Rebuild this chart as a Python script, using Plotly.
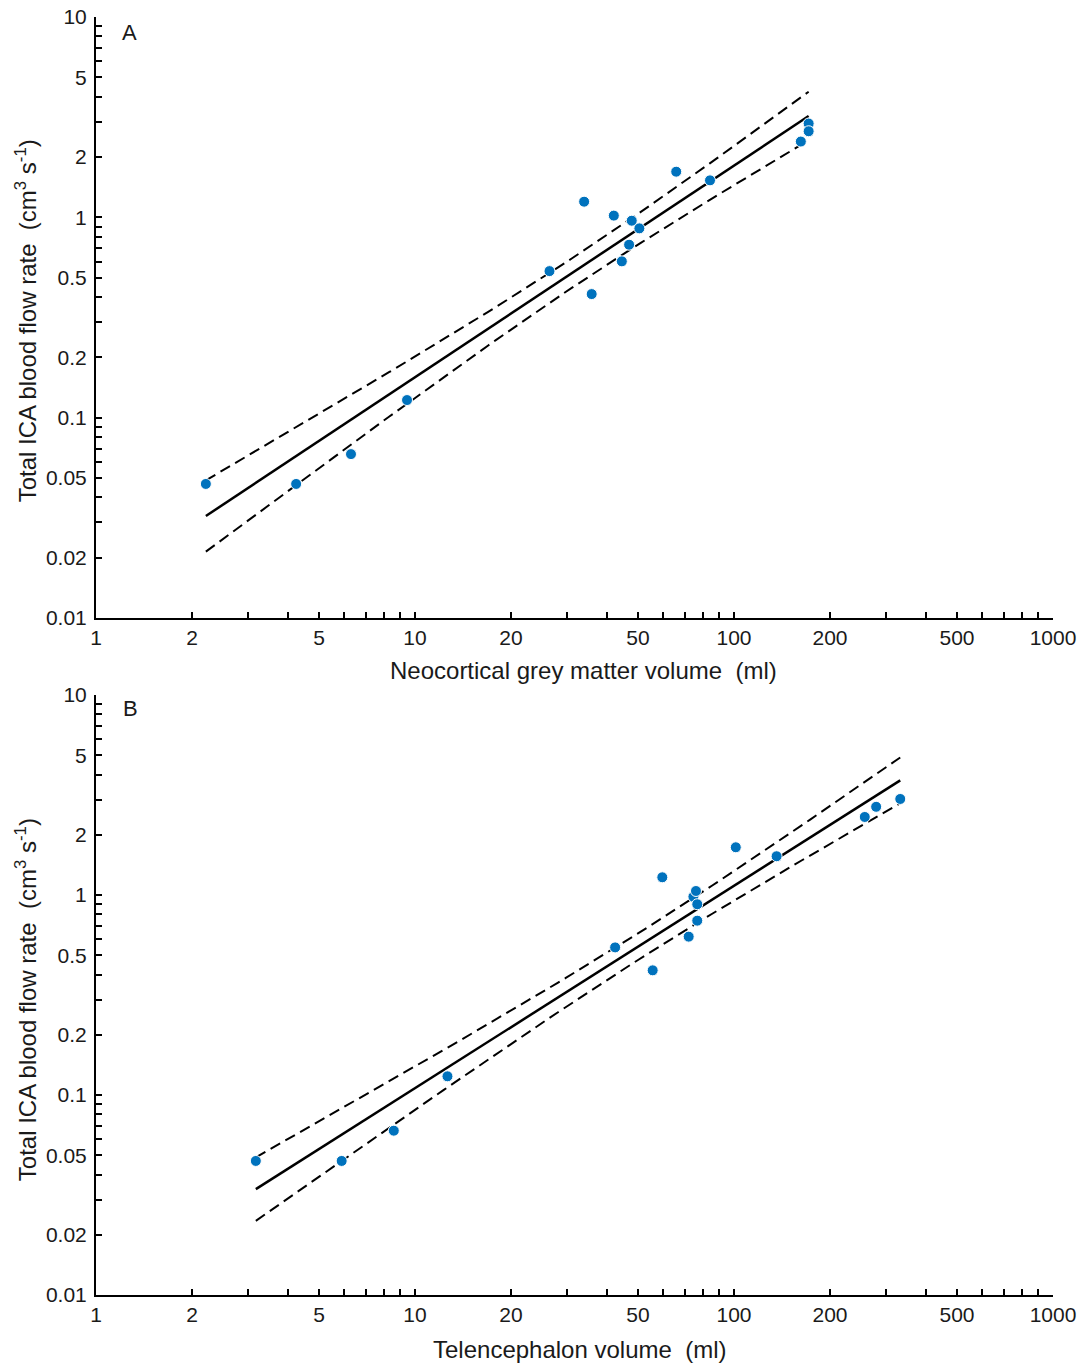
import numpy as np
import plotly.graph_objects as go
from plotly.subplots import make_subplots

# Panel A: neocortical grey matter volume (ml) vs total ICA blood flow (cm^3/s)
neo_volume = [2.21, 4.24, 6.30, 9.44, 26.4, 33.9, 35.8, 42.0, 44.5, 46.9,
              47.8, 50.5, 65.9, 84.1, 162.0, 171.4, 171.4]
flow_a = [0.0467, 0.0467, 0.0658, 0.1225, 0.539, 1.197, 0.414, 1.02, 0.603,
          0.73, 0.962, 0.881, 1.69, 1.53, 2.39, 2.94, 2.69]

# Panel B: telencephalon volume (ml) vs total ICA blood flow (cm^3/s)
tel_volume = [3.17, 5.89, 8.58, 12.64, 42.4, 55.6, 59.6, 72.1, 74.6, 76.0,
              76.7, 76.7, 101.3, 136.0, 257.0, 279.0, 332.0]
flow_b = [0.0468, 0.0468, 0.0663, 0.124, 0.547, 0.42, 1.226, 0.619, 0.98,
          1.047, 0.899, 0.744, 1.732, 1.562, 2.455, 2.76, 3.02]

x_tick_vals = [1, 2, 5, 10, 20, 50, 100, 200, 500, 1000]
x_tick_text = ["1", "2", "5", "10", "20", "50", "100", "200", "500", "1000"]
y_tick_vals = [0.01, 0.02, 0.05, 0.1, 0.2, 0.5, 1, 2, 5, 10]
y_tick_text = ["0.01", "0.02", "0.05", "0.1", "0.2", "0.5", "1", "2", "5", "10"]

T_975_DF15 = 2.131  # two-sided 95% Student t quantile, 15 degrees of freedom

BLUE = "#0072BD"
FONT = "Liberation Sans, Arial, sans-serif"
TEXT = "#1a1a1a"


def loglog_fit(x, y, n_pts=80):
    """OLS fit of log10(y) on log10(x) with a 95% confidence band for the mean."""
    lx, ly = np.log10(x), np.log10(y)
    n = len(lx)
    mx = lx.mean()
    sxx = ((lx - mx) ** 2).sum()
    slope = ((lx - mx) * (ly - ly.mean())).sum() / sxx
    icpt = ly.mean() - slope * mx
    resid = ly - (icpt + slope * lx)
    s = np.sqrt((resid ** 2).sum() / (n - 2))
    gx = np.linspace(lx.min(), lx.max(), n_pts)
    gy = icpt + slope * gx
    half = T_975_DF15 * s * np.sqrt(1.0 / n + (gx - mx) ** 2 / sxx)
    return 10 ** gx, 10 ** gy, 10 ** (gy - half), 10 ** (gy + half)


fig = make_subplots(rows=2, cols=1, vertical_spacing=0.0602)

for row, (xv, yv) in enumerate([(neo_volume, flow_a), (tel_volume, flow_b)], start=1):
    xv = np.asarray(xv, dtype=float)
    yv = np.asarray(yv, dtype=float)
    gx, gy, lo, hi = loglog_fit(xv, yv)
    for band in (lo, hi):
        fig.add_trace(go.Scatter(x=gx, y=band, mode="lines",
                                 line=dict(color="black", width=2, dash="11px,6px"),
                                 showlegend=False, hoverinfo="skip"), row=row, col=1)
    fig.add_trace(go.Scatter(x=gx, y=gy, mode="lines",
                             line=dict(color="black", width=2.5),
                             showlegend=False, hoverinfo="skip"), row=row, col=1)
    fig.add_trace(go.Scatter(x=xv, y=yv, mode="markers",
                             marker=dict(color=BLUE, size=11,
                                         line=dict(color="white", width=1)),
                             showlegend=False), row=row, col=1)

x_minor = [d * 10 ** e for e in range(0, 3) for d in range(3, 10) if d != 5]
y_minor = [d * 10.0 ** e for e in range(-2, 1) for d in range(3, 10) if d != 5]

axis_common = dict(
    type="log", showgrid=False, zeroline=False, automargin=False,
    showline=True, linecolor="black", linewidth=2,
    ticks="inside", ticklen=6, tickwidth=1.5, tickcolor="black",
    tickfont=dict(family=FONT, size=21, color=TEXT),
)

for r in (1, 2):
    fig.update_xaxes(range=[0, 3], tickvals=x_tick_vals, ticktext=x_tick_text,
                     minor=dict(tickvals=x_minor, ticks="inside", ticklen=6,
                                tickwidth=1.5, tickcolor="black"),
                     **axis_common, row=r, col=1)
    fig.update_yaxes(range=[-2, 1], tickvals=y_tick_vals, ticktext=y_tick_text,
                     ticklabelstandoff=3,
                     minor=dict(tickvals=y_minor, ticks="inside", ticklen=6,
                                tickwidth=1.5, tickcolor="black"),
                     **axis_common, row=r, col=1)

fig.update_layout(xaxis=dict(domain=[0, 1]), yaxis=dict(domain=[0.5297, 1.0]),
                  xaxis2=dict(domain=[0, 1]), yaxis2=dict(domain=[0.0, 0.4695]))

ytitle = "Total ICA blood flow rate  (cm<sup>3</sup> s<sup>-1</sup>)"
annots = [
    dict(text="A", x=0.0355, y=0.9875, size=22),
    dict(text="B", x=0.0365, y=0.4593, size=22),
    dict(text=ytitle, x=-0.073, y=0.762, textangle=-90, size=24),
    dict(text=ytitle, x=-0.073, y=0.2308, textangle=-90, size=24),
    dict(text="Neocortical grey matter volume  (ml)", x=0.509, y=0.489, size=24),
    dict(text="Telencephalon volume  (ml)", x=0.505, y=-0.043, size=24),
]
for a in annots:
    size = a.pop("size")
    fig.add_annotation(xref="paper", yref="paper", showarrow=False,
                       xanchor="center", yanchor="middle",
                       font=dict(family=FONT, size=size, color=TEXT), **a)

fig.update_layout(
    width=1082, height=1365,
    margin=dict(l=96, r=29, t=17, b=70),
    paper_bgcolor="white", plot_bgcolor="white",
    showlegend=False,
)

fig.write_html("out.html")
